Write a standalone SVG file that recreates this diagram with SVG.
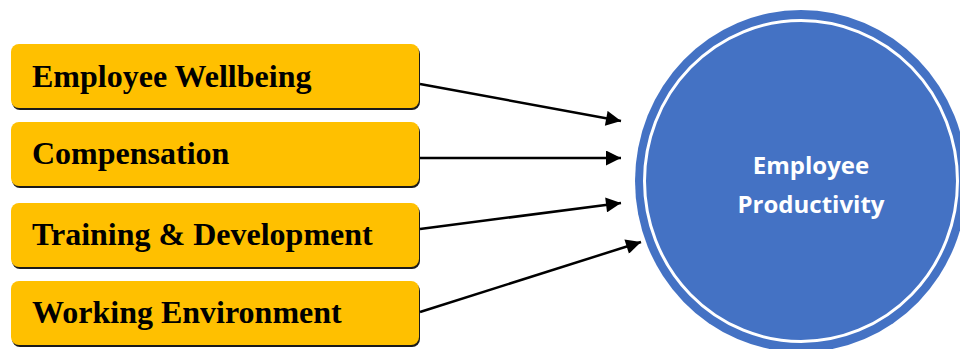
<svg xmlns="http://www.w3.org/2000/svg" width="960" height="349" viewBox="0 0 960 349">
  <style>
    .box { fill: #FFC000; }
    .shadow { fill: #1a1a1a; }
    .label { font-family: "Liberation Serif", "Times New Roman", serif; font-weight: bold; font-size: 32px; fill: #000; }
    .conn { stroke: #000; stroke-width: 2.5; fill: none; marker-end: url(#arrow); }
    .center-label { font-family: "Open Sans", "Noto Sans", sans-serif; font-weight: bold; font-size: 24px; fill: #fff; text-anchor: middle; }
  </style>
  <defs>
    <marker id="arrow" viewBox="0 0 10 10" refX="10" refY="5" markerWidth="6.5" markerHeight="6" markerUnits="strokeWidth" orient="auto">
      <path d="M0,0 L10,5 L0,10 Z" fill="#000"/>
    </marker>
  </defs>
  <rect width="960" height="349" fill="#fff"/>

  <g id="node-wellbeing">
    <rect class="shadow" x="12" y="46" width="408" height="64" rx="8"/>
    <rect class="box" x="11" y="44" width="408" height="64" rx="8"/>
    <text class="label" x="32" y="87">Employee Wellbeing</text>
  </g>
  <g id="node-compensation">
    <rect class="shadow" x="12" y="124" width="408" height="64" rx="8"/>
    <rect class="box" x="11" y="122" width="408" height="64" rx="8"/>
    <text class="label" x="32" y="164">Compensation</text>
  </g>
  <g id="node-training">
    <rect class="shadow" x="12" y="205" width="408" height="64" rx="8"/>
    <rect class="box" x="11" y="203" width="408" height="64" rx="8"/>
    <text class="label" x="32" y="245">Training &amp; Development</text>
  </g>
  <g id="node-environment">
    <rect class="shadow" x="12" y="283" width="408" height="64" rx="8"/>
    <rect class="box" x="11" y="281" width="408" height="64" rx="8"/>
    <text class="label" x="32" y="323">Working Environment</text>
  </g>

  <g id="node-productivity">
    <ellipse cx="801" cy="181" rx="166" ry="171" fill="#4472C4"/>
    <ellipse cx="801" cy="181" rx="156.5" ry="160.5" fill="none" stroke="#fff" stroke-width="3"/>
    <text class="center-label" x="811" y="174">Employee</text>
    <text class="center-label" x="811" y="213">Productivity</text>
  </g>

  <g id="connectors">
    <line class="conn" x1="420" y1="84" x2="621" y2="121"/>
    <line class="conn" x1="420" y1="158" x2="621" y2="158"/>
    <line class="conn" x1="420" y1="229" x2="621" y2="203"/>
    <line class="conn" x1="420" y1="312" x2="641" y2="242"/>
  </g>
</svg>
